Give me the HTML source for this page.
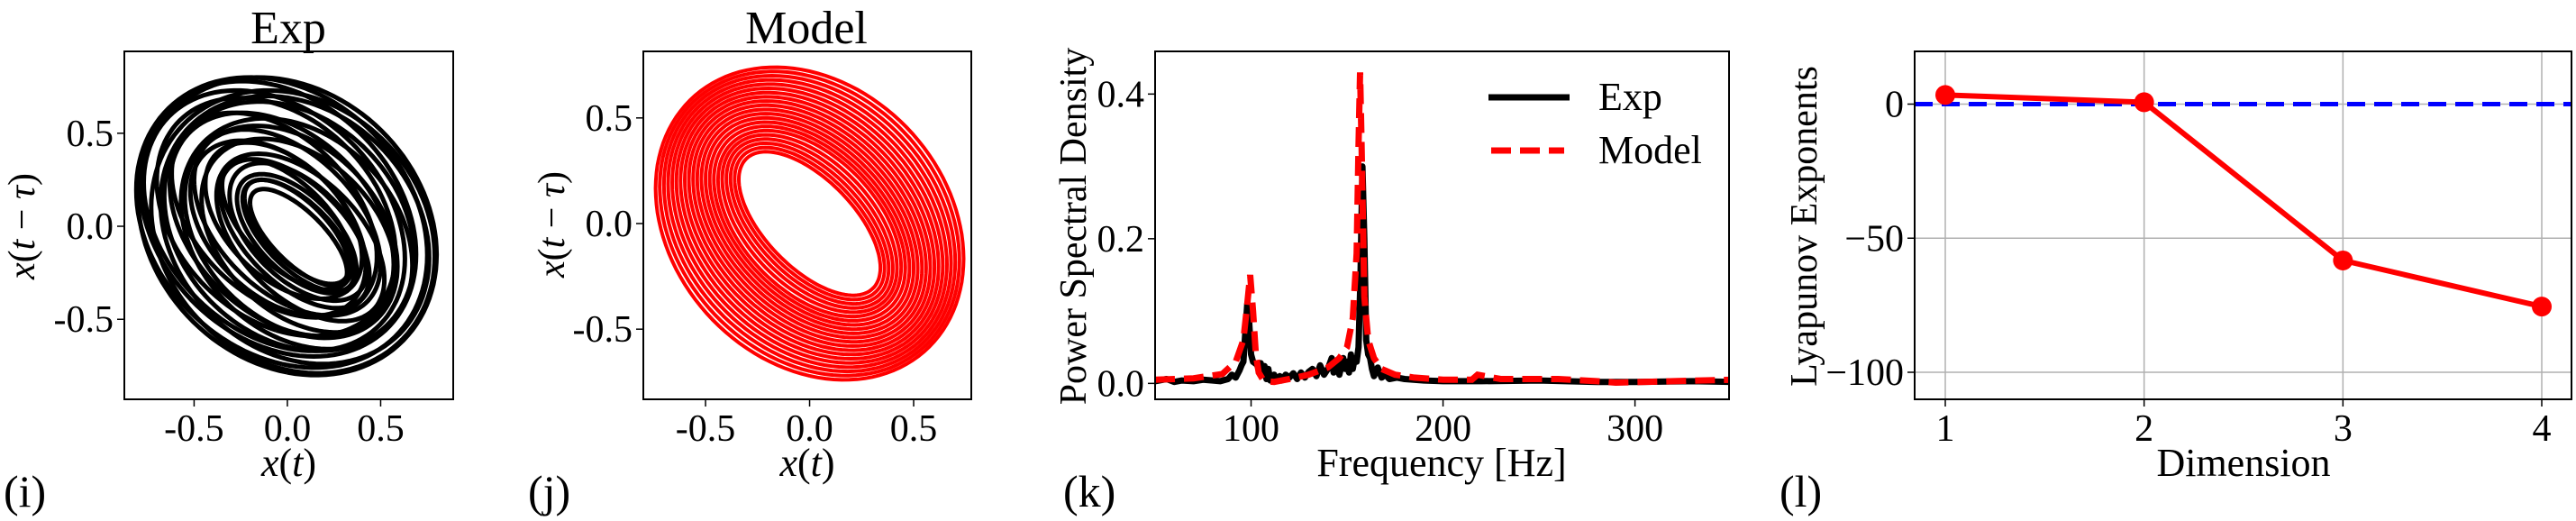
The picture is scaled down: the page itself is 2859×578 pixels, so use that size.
<!DOCTYPE html>
<html><head><meta charset="utf-8"><style>
html,body{margin:0;padding:0;background:#fff;}
svg{display:block;}
svg text{font-family:"Liberation Serif","Times New Roman",serif;}
</style></head><body>
<svg id="fig" width="2859" height="578" viewBox="0 0 2859 578" xmlns="http://www.w3.org/2000/svg" font-family="Liberation Serif, serif"></svg>
<script>
// ---------- data ----------
// Panel i (Exp attractor): loops as delay-embedded sinusoids
const expAmps   = [0.80,0.78,0.76,0.74,0.72,0.70,0.67,0.64,0.62,0.60,0.57,0.55,0.52,0.50,0.47,0.45,0.42,0.40,0.37,0.35,0.32,0.30,0.28,0.26];
const expPhases = [101,103,100,105,102,107,104,108,106,111,109,114,112,117,115,120,118,124,122,127,126,131,132,136];
const expCx     = [0.00,-0.03,0.03,-0.05,0.04,-0.07,0.01,-0.06,0.05,-0.03,0.02,-0.07,0.06,0.00,-0.05,0.07,-0.02,0.04,0.06,0.00,0.05,0.06,0.05,0.06];
const expCy     = [0.00,0.02,-0.03,0.04,-0.02,0.03,0.00,0.05,-0.04,0.01,-0.03,0.06,-0.05,0.02,-0.01,-0.06,0.03,-0.04,-0.03,0.01,-0.04,-0.05,-0.03,-0.06];
// Panel j (Model attractor)
const modAmps   = [0.74,0.72,0.70,0.68,0.66,0.64,0.62,0.60,0.58,0.56,0.54,0.52,0.50,0.48,0.46,0.44,0.42,0.40,0.38,0.36,0.34];
const modPhases = [103,104,105,106,107,108,109,110,111,112,113,114,115,116,117,118,120,122,124,126,128];
// Panel k (PSD)
const psdExpF = [50,56,60,64,70,75,80,84,88,90,92,94,95,96,97,98,99,100,101,102,103,104,105,106,107,108,109,110,112,113,115,116,118,120,122,124,126,128,130,132,134,136,138,140,142,143,145,146,148,149,150,151,152,153,154,155,156,157,158,159,160,161,162,163,164,166,168,170,172,176,180,190,200,220,250,280,300,330,350];
const psdExpV = [0.003,0.006,0.002,0.004,0.003,0.005,0.004,0.003,0.006,0.012,0.008,0.018,0.025,0.03,0.07,0.11,0.085,0.04,0.03,0.028,0.026,0.02,0.028,0.018,0.024,0.006,0.02,0.004,0.012,0.006,0.01,0.004,0.012,0.008,0.014,0.006,0.015,0.008,0.016,0.02,0.01,0.025,0.012,0.02,0.035,0.015,0.03,0.012,0.035,0.02,0.03,0.015,0.04,0.02,0.035,0.03,0.05,0.15,0.30,0.2,0.06,0.04,0.035,0.02,0.01,0.022,0.008,0.012,0.006,0.008,0.006,0.004,0.003,0.003,0.004,0.002,0.002,0.003,0.002];
const psdModF = [50,70,85,92,96,98,99.5,101,102.5,104,106,108,112,120,130,140,146,150,153,155,156,156.8,157.5,159,161,164,168,175,185,200,215,218,230,260,280,290,320,350];
const psdModV = [0.005,0.007,0.013,0.03,0.06,0.11,0.15,0.1,0.04,0.015,0.006,0.003,0.002,0.006,0.012,0.022,0.035,0.05,0.09,0.18,0.33,0.43,0.34,0.12,0.06,0.035,0.02,0.012,0.008,0.005,0.005,0.012,0.006,0.006,0.003,0.001,0.003,0.005];
const psdYTicks = [0.0,0.2,0.4];
const psdXTicks = [100,200,300];
// Panel l (Lyapunov)
const lyDims = [1,2,3,4];
const lyVals = [3.4,0.7,-58.3,-75.5];
const lyYTicks = [0,-50,-100];
const attrTicks = [-0.5,0.0,0.5];

// ---------- helpers ----------
const NS="http://www.w3.org/2000/svg";
const svg=document.getElementById('fig');
const FONT='"Liberation Serif", "Times New Roman", serif';
function mk(tag,attrs,parent,text){const e=document.createElementNS(NS,tag);for(const k in attrs)e.setAttribute(k,attrs[k]);if(tag==='text')e.setAttribute('font-family',FONT);if(text!==undefined&&text!==null)e.textContent=text;(parent||svg).appendChild(e);return e;}
function lin(d0,d1,r0,r1){return v=>r0+(v-d0)/(d1-d0)*(r1-r0);}
function fmt1(v){return (v<0?'-':'')+Math.abs(v).toFixed(1);}

function axesBox(g,L,T,R,B){
  const r=mk('rect',{x:L,y:T,width:R-L,height:B-T,fill:'none',stroke:'#000','stroke-width':2},g);
  
}
function xTick(g,x,B,label){
  const t=mk('line',{x1:x,y1:B,x2:x,y2:B+8,stroke:'#000','stroke-width':1.5},g);
  
  const l=mk('text',{x:x,y:B+46,'font-size':42,'text-anchor':'middle'},g,label);
  
}
function yTick(g,y,L,label){
  const t=mk('line',{x1:L-8,y1:y,x2:L,y2:y,stroke:'#000','stroke-width':1.5},g);
  
  const l=mk('text',{x:L-12,y:y+14,'font-size':42,'text-anchor':'end'},g,label);
  
}
function yLabelRot(g,x,y,content,italicHtml){
  const t=mk('text',{x:x,y:y,'font-size':42,'text-anchor':'middle',transform:`rotate(-90 ${x} ${y})`},g,italicHtml?null:content);
  if(italicHtml){t.innerHTML=italicHtml;}
  
  return t;
}
function panelLabel(x,label){
  const t=mk('text',{x:x,y:562,'font-size':50},svg,label);
  
}

// ---------- attractor panels ----------
function attractor(name,L,T,R,B,x0,x1,y0,y1,amps,phases,cxs,cys,color,sw,title,titleX){
  const g=mk('g',{});
  const sx=lin(x0,x1,L,R), sy=lin(y0,y1,B,T);
  mk('defs',{},g).innerHTML=`<clipPath id="clip-${name}"><rect x="${L}" y="${T}" width="${R-L}" height="${B-T}"/></clipPath>`;
  const lg=mk('g',{'clip-path':`url(#clip-${name})`},g);
  for(let i=0;i<amps.length;i++){
    const A=amps[i],ph=phases[i]*Math.PI/180,cx=cxs?cxs[i]:0,cy=cys?cys[i]:0;
    let d='';
    for(let k=0;k<=120;k++){const th=k/120*2*Math.PI;
      const x=A*Math.sin(th)+cx,y=A*Math.sin(th-ph)+cy;
      d+=(k?'L':'M')+sx(x).toFixed(1)+','+sy(y).toFixed(1);}
    const p=mk('path',{d:d,fill:'none',stroke:color,'stroke-width':sw},lg);
    
  }
  axesBox(g,L,T,R,B);
  attrTicks.forEach(v=>xTick(g,sx(v),B,fmt1(v)));
  attrTicks.forEach(v=>yTick(g,sy(v),L,fmt1(v)));
  const tt=mk('text',{x:titleX,y:48,'font-size':52,'text-anchor':'middle'},g,title);
  
  const xl=mk('text',{x:(L+R)/2,y:528,'font-size':44,'text-anchor':'middle'},g);
  xl.innerHTML='<tspan font-style="italic">x</tspan>(<tspan font-style="italic">t</tspan>)';
  
  return {g,sy};
}
const pi=attractor('exp-attractor-panel',138,57,503,443,-0.874,0.889,-0.93,0.94,expAmps,expPhases,expCx,expCy,'#000',5,'Exp',320);
yLabelRot(pi.g,38,251,null,'<tspan font-style="italic">x</tspan>(<tspan font-style="italic">t</tspan> − <tspan font-style="italic">τ</tspan>)');
const pj=attractor('model-attractor-panel',714,57,1078,443,-0.799,0.777,-0.832,0.815,modAmps,modPhases,null,null,'#f00',4,'Model',895);
yLabelRot(pj.g,626,249,null,'<tspan font-style="italic">x</tspan>(<tspan font-style="italic">t</tspan> − <tspan font-style="italic">τ</tspan>)');
panelLabel(4,'(i)');panelLabel(586,'(j)');

// ---------- PSD panel ----------
(function(){
  const L=1282,T=57,R=1919,B=443;
  const g=mk('g',{});
  const sx=lin(50,349,L,R), sy=lin(-0.022,0.459,B,T);
  mk('defs',{},g).innerHTML=`<clipPath id="clip-psd"><rect x="${L}" y="${T}" width="${R-L}" height="${B-T}"/></clipPath>`;
  const cg=mk('g',{'clip-path':'url(#clip-psd)'},g);
  const dE=psdExpF.map((f,i)=>(i?'L':'M')+sx(f).toFixed(1)+','+sy(psdExpV[i]).toFixed(1)).join('');
  const pe=mk('path',{d:dE,fill:'none',stroke:'#000','stroke-width':7,'stroke-linejoin':'round'},cg);
  
  const dM=psdModF.map((f,i)=>(i?'L':'M')+sx(f).toFixed(1)+','+sy(psdModV[i]).toFixed(1)).join('');
  const pm=mk('path',{d:dM,fill:'none',stroke:'#f00','stroke-width':7,'stroke-dasharray':'22 10'},cg);
  
  axesBox(g,L,T,R,B);
  psdXTicks.forEach(v=>xTick(g,sx(v),B,String(v)));
  psdYTicks.forEach(v=>yTick(g,sy(v),L,v.toFixed(1)));
  yLabelRot(g,1205,251,'Power Spectral Density');
  const xl=mk('text',{x:1600,y:528,'font-size':44,'text-anchor':'middle'},g,'Frequency [Hz]');
  
  const lg=mk('g',{},g);
  const l1=mk('line',{x1:1652,y1:108,x2:1742,y2:108,stroke:'#000','stroke-width':7},lg);
  
  const t1=mk('text',{x:1774,y:122,'font-size':44},lg,'Exp');
  
  const l2=mk('line',{x1:1655,y1:167,x2:1736,y2:167,stroke:'#f00','stroke-width':7,'stroke-dasharray':'22 10'},lg);
  
  const t2=mk('text',{x:1774,y:181,'font-size':44},lg,'Model');
  
})();
panelLabel(1180,'(k)');

// ---------- Lyapunov panel ----------
(function(){
  const L=2125,T=57,R=2854,B=443;
  const g=mk('g',{});
  const sx=lin(1,4,2159,2821), sy=lin(0,-100,115.5,413);
  lyDims.forEach(d=>{const gl=mk('line',{x1:sx(d),y1:T,x2:sx(d),y2:B,stroke:'#b0b0b0','stroke-width':1.5},g);
    });
  lyYTicks.forEach(v=>{const gl=mk('line',{x1:L,y1:sy(v),x2:R,y2:sy(v),stroke:'#b0b0b0','stroke-width':1.5},g);
    });
  const zl=mk('line',{x1:L,y1:sy(0),x2:R,y2:sy(0),stroke:'#00f','stroke-width':5,'stroke-dasharray':'20 10'},g);
  
  const d=lyDims.map((x,i)=>(i?'L':'M')+sx(x).toFixed(1)+','+sy(lyVals[i]).toFixed(1)).join('');
  const pl=mk('path',{d:d,fill:'none',stroke:'#f00','stroke-width':6},g);
  
  lyDims.forEach((x,i)=>{const c=mk('circle',{cx:sx(x),cy:sy(lyVals[i]),r:11,fill:'#f00'},g);
    });
  axesBox(g,L,T,R,B);
  lyDims.forEach(v=>xTick(g,sx(v),B,String(v)));
  lyYTicks.forEach(v=>yTick(g,sy(v),L,v<0?'−'+Math.abs(v):String(v)));
  yLabelRot(g,2016,251,'Lyapunov Exponents');
  const xl=mk('text',{x:2490,y:528,'font-size':44,'text-anchor':'middle'},g,'Dimension');
  
})();
panelLabel(1975,'(l)');
</script>
</body></html>
